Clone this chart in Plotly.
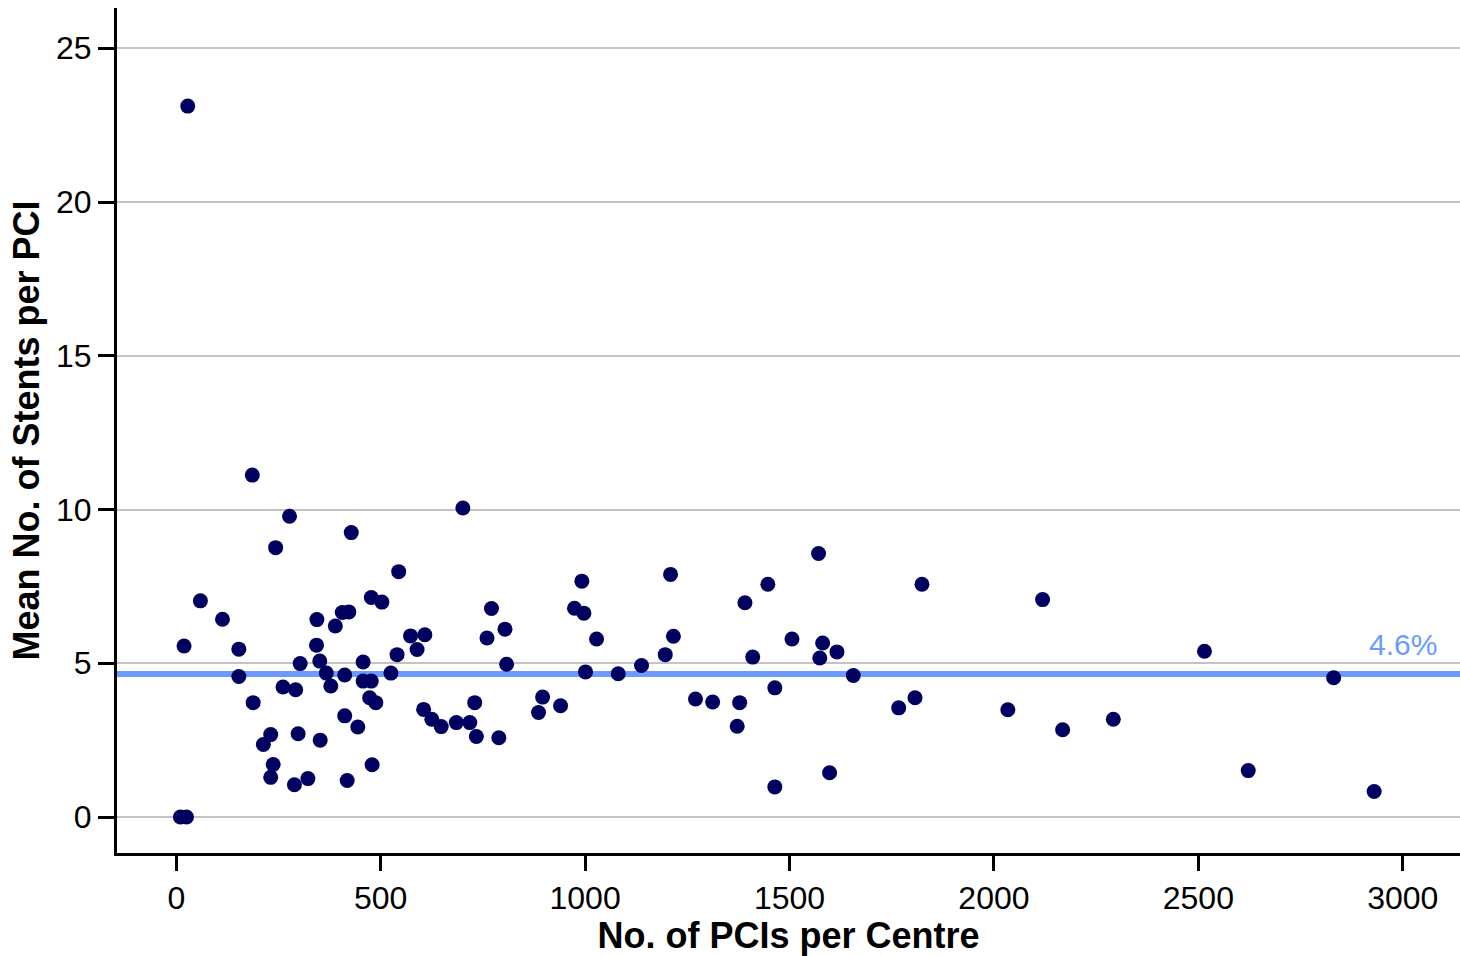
import plotly.graph_objects as go

# Data
pcis_per_centre = [
    28, 19, 10, 25, 59, 113, 153, 153, 186, 188, 213, 231, 237, 231, 243, 261, 277,
    292, 298, 303, 289, 322, 344, 343, 351, 352, 367, 378, 389, 406, 422, 412, 412,
    418, 428, 444, 457, 457, 477, 473, 488, 479, 477, 503, 525, 540, 544, 573, 589,
    608, 605, 625, 648, 685, 701, 718, 730, 734, 760, 771, 789, 804, 808, 886, 896,
    940, 974, 992, 997, 1001, 1028, 1081, 1138, 1196, 1209, 1216, 1270, 1312, 1372,
    1378, 1391, 1410, 1447, 1464, 1464, 1506, 1571, 1574, 1581, 1616, 1598, 1656,
    1767, 1807, 1824, 2034, 2119, 2168, 2292, 2515, 2622, 2831, 2930,
]
mean_stents_per_pci = [
    23.12, 5.56, 0.0, 0.0, 7.03, 6.43, 5.46, 4.57, 11.12, 3.72, 2.36, 2.68, 1.71, 1.29,
    8.76, 4.23, 9.78, 4.14, 2.71, 4.99, 1.05, 1.25, 6.42, 5.59, 5.07, 2.50, 4.68, 4.26,
    6.21, 6.65, 6.67, 4.62, 3.29, 1.19, 9.25, 2.93, 5.04, 4.42, 4.42, 3.88, 3.72, 1.70,
    7.14, 6.99, 4.68, 5.28, 7.98, 5.89, 5.45, 5.93, 3.50, 3.18, 2.94, 3.07, 10.05, 3.07,
    3.72, 2.62, 5.82, 6.78, 2.58, 6.11, 4.97, 3.40, 3.90, 3.62, 6.79, 7.67, 6.63, 4.72,
    5.79, 4.66, 4.93, 5.28, 7.89, 5.88, 3.84, 3.74, 2.95, 3.72, 6.97, 5.20, 7.57, 4.20,
    0.98, 5.79, 8.57, 5.17, 5.66, 5.37, 1.44, 4.60, 3.55, 3.88, 7.57, 3.49, 7.07, 2.84,
    3.18, 5.39, 1.51, 4.53, 0.83,
]
reference_value = 4.65
reference_label = "4.6%"
x_ticks = [0, 500, 1000, 1500, 2000, 2500, 3000]
y_ticks = [0, 5, 10, 15, 20, 25]

FONT = "Liberation Sans, Arial, sans-serif"
NAVY = "#000060"
BLUE = "#6b9bff"

fig = go.Figure()
fig.add_trace(go.Scatter(
    x=pcis_per_centre, y=mean_stents_per_pci, mode="markers",
    marker=dict(color=NAVY, size=15, line=dict(width=0)),
    showlegend=False, hoverinfo="x+y",
))

fig.add_shape(type="line", xref="paper", x0=0, x1=1, yref="y",
              y0=reference_value, y1=reference_value,
              line=dict(color=BLUE, width=6), layer="between")

fig.add_annotation(x=3000, y=reference_value, xref="x", yref="y",
                   text=reference_label, showarrow=False, yanchor="bottom",
                   yshift=11, font=dict(family=FONT, size=30, color=BLUE))

fig.update_layout(
    width=1460, height=956,
    margin=dict(l=117, r=0, t=8, b=103),
    paper_bgcolor="white", plot_bgcolor="white",
    font=dict(family=FONT, color="black"),
)
fig.update_xaxes(
    range=[-145, 3140], tickvals=x_ticks, showgrid=False, zeroline=False,
    showline=True, linecolor="black", linewidth=3,
    ticks="outside", ticklen=15, tickwidth=3, tickcolor="black",
    tickfont=dict(family=FONT, size=32, color="black"),
    title=dict(text="No. of PCIs per Centre", standoff=6,
               font=dict(family=FONT, size=36, color="black", weight="bold")),
)
fig.update_yaxes(
    range=[-1.17, 26.31], tickvals=y_ticks, showgrid=True, gridcolor="#c4c4c4",
    gridwidth=2, zeroline=False,
    showline=True, linecolor="black", linewidth=3,
    ticks="outside", ticklen=16, tickwidth=3, tickcolor="black",
    tickfont=dict(family=FONT, size=32, color="black"),
    title=dict(text="Mean No. of Stents per PCI", standoff=6,
               font=dict(family=FONT, size=36, color="black", weight="bold")),
)

# remove the default page margin so the figure fills the window exactly
fig.write_html(
    "out.html",
    config={"displayModeBar": False},
    post_script="document.body.style.margin='0';document.body.style.overflow='hidden';",
)
